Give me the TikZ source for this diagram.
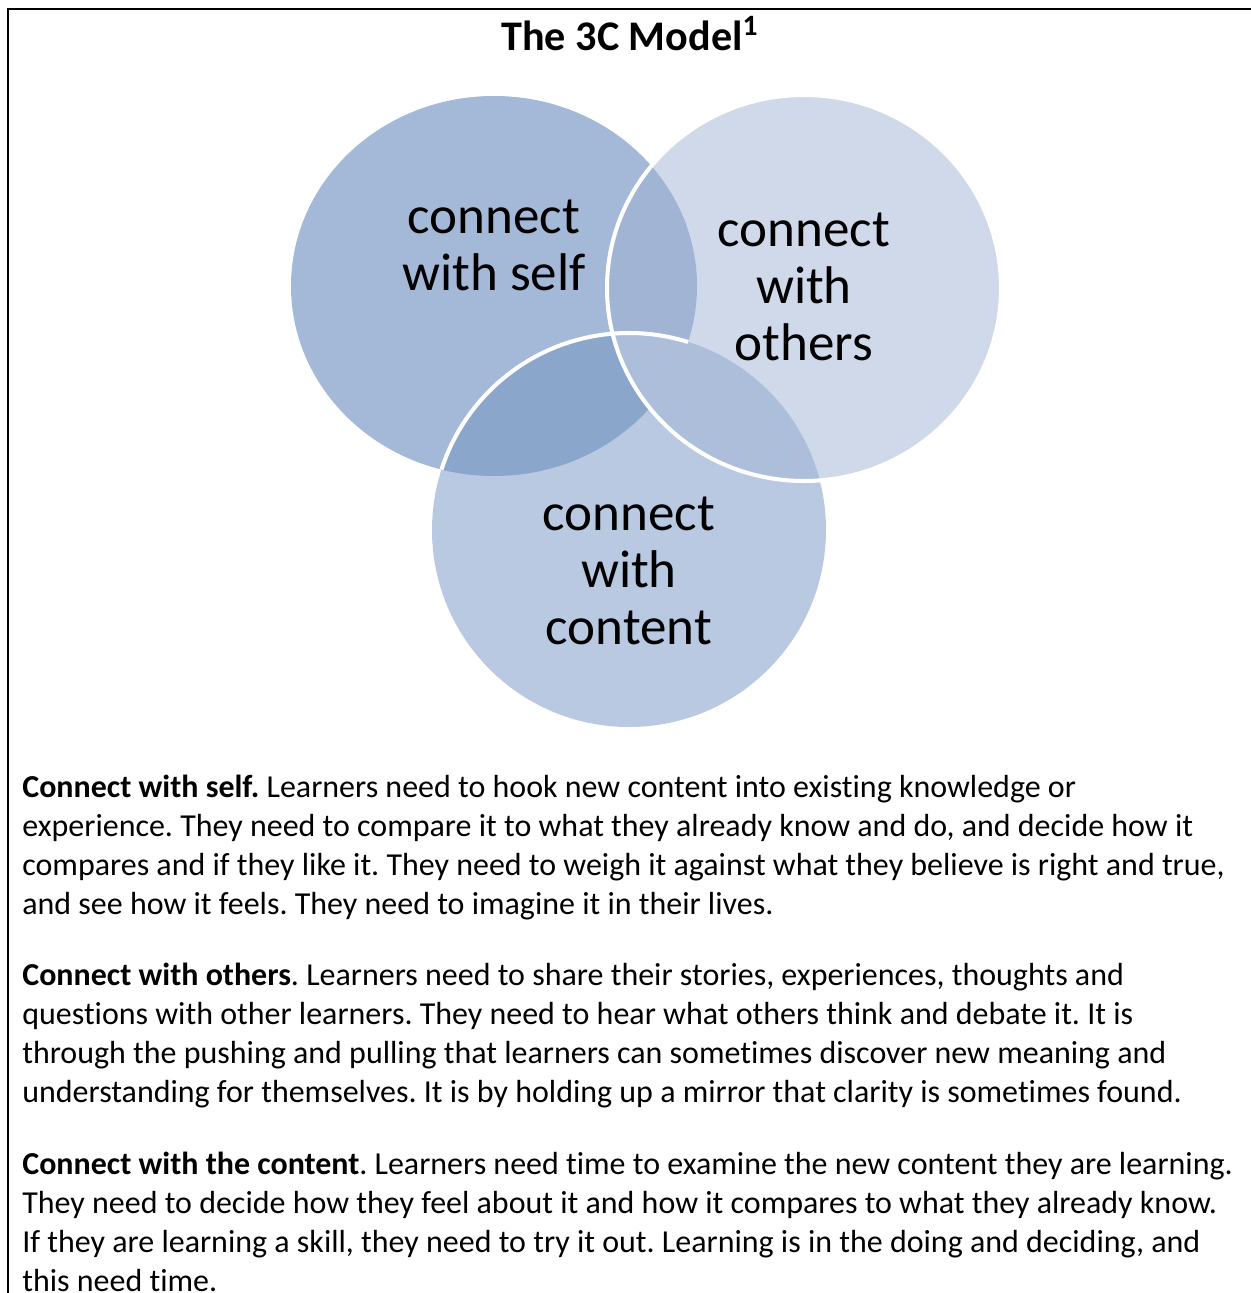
\documentclass[tikz,border=0pt]{standalone}
\usepackage{fontspec}
\setmainfont{Carlito}[Ligatures=NoCommon]
\usepackage{tikz}
\frenchspacing

\definecolor{selfblue}{HTML}{A4B8D7}
\definecolor{othersblue}{HTML}{CFD9EA}
\definecolor{contentblue}{HTML}{B8C9E1}
\definecolor{selfothers}{HTML}{A2B4D3}
\definecolor{selfcontent}{HTML}{8AA6CB}
\definecolor{otherscontent}{HTML}{ACBED9}
\definecolor{allthree}{HTML}{9DB1D1}

\begin{document}
\begin{tikzpicture}[x=0.02cm,y=-0.02cm,
                    self r/.style={x radius=203,y radius=190},
                    others r/.style={x radius=197,y radius=193},
                    content r/.style={x radius=197,y radius=197},
                    rim/.style={white,line width=2.3pt},
                    venn label/.style={align=center,inner sep=0pt,font=\fontsize{30.2}{32.5}\selectfont},
                    body text/.style={anchor=base west,align=left,inner sep=0pt,font=\fontsize{18.2}{22.1}\selectfont}]
  \useasboundingbox (0,0) rectangle (1250,1293);

  \draw[line width=1.2pt] (1260,9) -- (8,9) -- (8,1310);

  \node[anchor=base,inner sep=0pt,font=\fontsize{24}{28}\selectfont\bfseries] (title) at (630,51) {The 3C Model\textsuperscript{1}};

  \coordinate (self) at (494,286);
  \coordinate (others) at (804,288);
  \coordinate (content) at (629,530);

  \fill[selfblue] (self) ellipse [self r];
  \fill[othersblue] (others) ellipse [others r];
  \fill[contentblue] (content) ellipse [content r];
  \begin{scope}
    \clip (self) ellipse [self r];
    \fill[selfothers] (others) ellipse [others r];
    \fill[selfcontent] (content) ellipse [content r];
    \clip (others) ellipse [others r];
    \fill[allthree] (content) ellipse [content r];
  \end{scope}
  \begin{scope}
    \clip (others) ellipse [others r];
    \fill[otherscontent] (content) ellipse [content r];
  \end{scope}

  \draw[rim] (others) ellipse [others r];
  \begin{scope}
    \clip (self) ellipse [self r];
    \draw[rim] (content) ellipse [content r];
  \end{scope}

  \node[venn label] (selflabel) at (494,245) {connect\\with self};
  \node[venn label] (otherslabel) at (804,287) {connect\\with\\others};
  \node[venn label] (contentlabel) at (629,571) {connect\\with\\content};

  \node[body text] (selftext) at (22,914) {\textbf{Connect with self.} Learners need to hook new content into existing knowledge or\\
    experience. They need to compare it to what they already know and do, and decide how it\\
    compares and if they like it. They need to weigh it against what they believe is right and true,\\
    and see how it feels. They need to imagine it in their lives.};
  \node[body text] (otherstext) at (22,1102) {\textbf{Connect with others}. Learners need to share their stories, experiences, thoughts and\\
    questions with other learners. They need to hear what others think and debate it. It is\\
    through the pushing and pulling that learners can sometimes discover new meaning and\\
    understanding for themselves. It is by holding up a mirror that clarity is sometimes found.};
  \node[body text] (contenttext) at (22,1291) {\textbf{Connect with the content}. Learners need time to examine the new content they are learning.\\
    They need to decide how they feel about it and how it compares to what they already know.\\
    If they are learning a skill, they need to try it out. Learning is in the doing and deciding, and\\
    this need time.};
\end{tikzpicture}
\end{document}
